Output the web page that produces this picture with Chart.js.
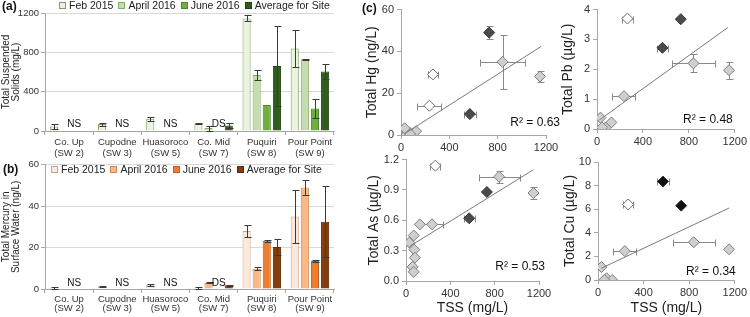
<!DOCTYPE html>
<html>
<head>
<meta charset="utf-8">
<script src="https://cdn.jsdelivr.net/npm/chart.js@4.4.1/dist/chart.umd.min.js"></script>
<style>
  body { margin: 0; background: #fff; }
  #wrap { position: relative; width: 750px; height: 317px; overflow: hidden; font-family: "Liberation Sans", Arial, sans-serif; }
  #wrap canvas { position: absolute; }
  .tag { position: absolute; font-weight: bold; font-size: 12px; color: #111; }
  .legend { position: absolute; display: flex; gap: 5px; font-size: 10.5px; color: #222; white-space: nowrap; line-height: 11px; }
  .legend span { display: inline-flex; align-items: center; gap: 3px; }
  .legend i { display: inline-block; width: 5px; height: 5px; border: 1px solid; }
</style>
</head>
<body>
<div id="wrap">
  <canvas id="c-tss" width="345" height="160" style="left:0;top:0"></canvas>
  <canvas id="c-hgbar" width="345" height="160" style="left:0;top:157px"></canvas>
  <canvas id="c-hg" width="200" height="158" style="left:364px;top:0"></canvas>
  <canvas id="c-pb" width="190" height="150" style="left:560px;top:0"></canvas>
  <canvas id="c-as" width="190" height="167" style="left:366px;top:150px"></canvas>
  <canvas id="c-cu" width="190" height="167" style="left:560px;top:150px"></canvas>
  <div class="legend" id="leg-a" style="left:59px;top:0"></div>
  <div class="legend" id="leg-b" style="left:51px;top:164px"></div>
  <div class="tag" style="left:2px;top:-1px">(a)</div>
  <div class="tag" style="left:3px;top:162px">(b)</div>
  <div class="tag" style="left:362px;top:1px">(c)</div>
</div>
<script>
// ---- bar chart data (a) TSS, (b) total Hg ----
const sites = [["Co. Up", "(SW 2)"], ["Cupodne", "(SW 3)"], ["Huasoroco", "(SW 5)"], ["Co. Mid", "(SW 7)"], ["Puquiri", "(SW 8)"], ["Pour Point", "(SW 9)"]];
const seriesNames = ["Feb 2015", "April 2016", "June 2016", "Average for Site"];

const tssFeb = [45, 70, 125, 75, 1145, 840];
const tssFebErr = [22, 15, 22, 8, 30, 185];
const tssApr = [null, null, null, 30, 570, 730];
const tssAprErr = [0, 0, 0, 25, 55, 5];
const tssJun = [null, null, null, null, 265, 230];
const tssJunErr = [0, 0, 0, 0, 0, 100];
const tssAvg = [null, null, null, 55, 660, 605];
const tssAvgErr = [0, 0, 0, 25, 410, 75];
const tssNotes = ["NS", "NS", "NS", "DS", "", ""];

const hgFeb = [0.5, 1.2, 1.8, 0.5, 28, 35];
const hgFebErr = [0.3, 0.3, 0.5, 0.3, 2.8, 13];
const hgApr = [null, null, null, 3.0, 9.8, 49];
const hgAprErr = [0, 0, 0, 0.3, 0.8, 3.6];
const hgJun = [null, null, null, null, 23.3, 13.5];
const hgJunErr = [0, 0, 0, 0, 0.5, 0.5];
const hgAvg = [null, null, null, 1.8, 20.3, 32.5];
const hgAvgErr = [0, 0, 0, 0.3, 3.8, 17];
const hgNotes = ["NS", "NS", "NS", "DS", "", ""];

// ---- scatter data (c): [TSS, metal] ----
const hgGray = [[45, 0.5], [70, 1.2], [125, 1.8], [75, 0.5], [30, 3.2], [840, 35], [1150, 28]];
const hgGrayXErr = [0, 0, 0, 0, 0, 185, 0];
const hgGrayYErr = [0, 0, 0, 0, 0, 13, 2.6];
const hgWhite = [[265, 29], [235, 14]];
const hgWhiteXErr = [45, 100];
const hgDark = [[570, 10], [730, 49]];
const hgDarkXErr = [50, 0];
const hgDarkYErr = [0, 3.2];
const hgTrend = [[30, 0.6], [1160, 42.4]];

const pbGray = [[30, 0.38], [125, 0.22], [75, 0.05], [45, 0.05], [235, 1.1], [840, 2.2], [1150, 1.97]];
const pbGrayXErr = [0, 0, 0, 0, 100, 185, 0];
const pbGrayYErr = [0, 0, 0, 0, 0, 0.3, 0.28];
const pbWhite = [[265, 3.7]];
const pbWhiteXErr = [45];
const pbDark = [[570, 2.72], [730, 3.68]];
const pbDarkXErr = [50, 0];
const pbTrend = [[20, 0.3], [1140, 3.4]];

const asGray = [[70, 0.45], [30, 0.38], [75, 0.31], [80, 0.23], [60, 0.14], [70, 0.09], [125, 0.56], [235, 0.56], [840, 1.03], [1150, 0.87]];
const asGrayXErr = [0, 0, 0, 0, 0, 0, 0, 100, 185, 0];
const asGrayYErr = [0, 0, 0, 0, 0, 0, 0, 0, 0.06, 0.06];
const asWhite = [[265, 1.14]];
const asWhiteXErr = [45];
const asDark = [[570, 0.62], [730, 0.88]];
const asDarkXErr = [50, 0];
const asTrend = [[30, 0.34], [1150, 1.10]];

const cuGray = [[30, 1.1], [75, 0.15], [125, 0], [55, 0], [235, 2.45], [840, 3.2], [1150, 2.6]];
const cuGrayXErr = [0, 0, 0, 0, 100, 185, 0];
const cuWhite = [[265, 6.4]];
const cuWhiteXErr = [45];
const cuDark = [[570, 8.35], [730, 6.3]];
const cuDarkXErr = [50, 0];
const cuTrend = [[30, 1.0], [1150, 6.1]];

const FONT = "'Liberation Sans', Arial, sans-serif";
const GREENS = [["#eaf2e0", "#7f9f63"], ["#c4dcae", "#86aa68"], ["#6fae3f", "#4f8a2a"], ["#2f5d1e", "#1f4412"]];
const ORANGES = [["#fce9dc", "#c8a488"], ["#f6b987", "#d08a55"], ["#ed7d31", "#c05f1c"], ["#843c0c", "#5c2a08"]];
const plain = (v) => String(v);

// error bars drawn from the chart's own scales
const errorBars = {
  id: "errorBars",
  beforeDatasetsDraw(chart, args, opts) { if (opts.under) drawErrors(chart, opts); },
  afterDatasetsDraw(chart, args, opts) { if (!opts.under) drawErrors(chart, opts); },
};

function drawErrors(chart, opts) {
  const { ctx, scales: { x, y } } = chart;
  const cap = opts.cap || 3;
  ctx.save();
  ctx.strokeStyle = opts.color || "#333";
  ctx.lineWidth = 1;
  chart.data.datasets.forEach((ds, i) => {
    const meta = chart.getDatasetMeta(i);
    ds.data.forEach((d, j) => {
      if (d == null) return;
      const el = meta.data[j];
      if (!el) return;
      const vy = typeof d === "object" ? d.y : d;
      const vx = typeof d === "object" ? d.x : null;
      const ey = ds.yErr ? ds.yErr[j] : 0;
      const ex = ds.xErr ? ds.xErr[j] : 0;
      const px = Math.round(el.x) + 0.5;
      const py = Math.round(el.y) + 0.5;
      ctx.beginPath();
      if (ey) {
        const t = Math.round(y.getPixelForValue(vy + ey)) + 0.5;
        const b = Math.round(y.getPixelForValue(Math.max(vy - ey, y.min))) + 0.5;
        ctx.moveTo(px, t); ctx.lineTo(px, b);
        ctx.moveTo(px - cap, t); ctx.lineTo(px + cap + 1, t);
        ctx.moveTo(px - cap, b); ctx.lineTo(px + cap + 1, b);
      }
      if (ex && vx != null) {
        const l = Math.round(x.getPixelForValue(Math.max(vx - ex, x.min))) + 0.5;
        const r = Math.round(x.getPixelForValue(vx + ex)) + 0.5;
        ctx.moveTo(l, py); ctx.lineTo(r, py);
        ctx.moveTo(l, py - cap); ctx.lineTo(l, py + cap + 1);
        ctx.moveTo(r, py - cap); ctx.lineTo(r, py + cap + 1);
      }
      ctx.stroke();
    });
  });
  ctx.restore();
}

// NS / DS labels on bars, R² on scatters
const notes = {
  id: "notes",
  afterDatasetsDraw(chart, args, opts) {
    const { ctx, chartArea } = chart;
    ctx.save();
    ctx.fillStyle = "#111";
    if (opts.barNotes) {
      const meta = chart.getDatasetMeta(2);
      ctx.font = "10px " + FONT;
      ctx.textAlign = "center";
      ctx.textBaseline = "bottom";
      const base = chart.scales.y.getPixelForValue(0);
      opts.barNotes.forEach((t, i) => {
        if (t) ctx.fillText(t, meta.data[i].x, base - opts.lift);
      });
    }
    if (opts.r2) {
      ctx.font = "12px " + FONT;
      ctx.textAlign = "right";
      ctx.textBaseline = "middle";
      ctx.fillText(opts.r2, chartArea.right + opts.dx, chartArea.bottom - opts.dy);
    }
    ctx.restore();
  },
};

function buildLegend(id, colors) {
  document.getElementById(id).innerHTML = seriesNames.map((n, i) =>
    `<span><i style="background:${colors[i][0]};border-color:${colors[i][1]}"></i>${n}</span>`).join("");
}

function barChart(canvasId, series, errs, colors, notesArr, o) {
  new Chart(document.getElementById(canvasId), {
    type: "bar",
    data: {
      labels: sites,
      datasets: series.map((s, i) => ({
        label: seriesNames[i],
        data: s,
        yErr: errs[i],
        backgroundColor: colors[i][0],
        borderColor: colors[i][1],
        borderWidth: 1,
        barPercentage: 0.8,
        categoryPercentage: 0.84,
      })),
    },
    options: {
      responsive: false,
      animation: false,
      layout: { autoPadding: false, padding: { top: o.top, right: 11, left: 0, bottom: 0 } },
      plugins: {
        legend: { display: false },
        tooltip: { enabled: false },
        errorBars: { color: "#3a3a3a", cap: 3 },
        notes: { barNotes: notesArr, lift: o.lift },
      },
      scales: {
        x: {
          afterFit: (s) => { s.height = o.xh; },
          grid: { drawOnChartArea: false, drawTicks: true, tickLength: 4, color: "#a6a6a6" },
          border: { color: "#a6a6a6" },
          ticks: { color: "#333", font: { family: FONT, size: 9.5, lineHeight: o.lh }, padding: 2, maxRotation: 0, autoSkip: false },
        },
        y: {
          min: 0, max: o.max,
          afterFit: (s) => { s.width = 45; },
          grid: { color: "#d9d9d9", tickColor: "#a6a6a6", tickLength: 4 },
          border: { color: "#a6a6a6" },
          ticks: { stepSize: o.step, color: "#333", font: { family: FONT, size: 9.5 }, padding: 2, callback: plain },
          title: { display: true, text: o.title, color: "#222", font: { family: FONT, size: 10, lineHeight: 1.0 }, padding: { top: 1, bottom: 0 } },
        },
      },
    },
    plugins: [errorBars, notes],
  });
}

const pts = (arr) => arr.map(([x, y]) => ({ x, y }));

function scatterChart(canvasId, d, o) {
  const marker = { pointStyle: "rectRot", pointRadius: 5.5, borderWidth: 1, showLine: false };
  new Chart(document.getElementById(canvasId), {
    type: "scatter",
    data: {
      datasets: [
        { label: "trend", data: pts(d.trend), showLine: true, borderColor: "#7a7a7a", borderWidth: 1, pointRadius: 0, order: 0 },
        { label: "June 2016", data: pts(d.white), xErr: d.whiteXErr, ...marker, backgroundColor: "#ffffff", borderColor: "#6b6b6b", order: 1 },
        { label: "April 2016", data: pts(d.dark), xErr: d.darkXErr, yErr: d.darkYErr, ...marker, backgroundColor: o.dark, borderColor: "#333", order: 2 },
        { label: "Feb 2015", data: pts(d.gray), xErr: d.grayXErr, yErr: d.grayYErr, ...marker, backgroundColor: "#cfcfcf", borderColor: "#7d7d7d", order: 3 },
      ],
    },
    options: {
      responsive: false,
      animation: false,
      layout: { autoPadding: false, padding: { top: o.top, right: o.right, left: 0, bottom: 0 } },
      plugins: {
        legend: { display: false },
        tooltip: { enabled: false },
        errorBars: { color: "#8a8a8a", cap: 3, under: true },
        notes: { r2: o.r2, dx: o.r2dx, dy: o.r2dy },
      },
      scales: {
        x: {
          type: "linear", min: 0, max: 1200,
          afterFit: (s) => { s.height = o.xh; },
          grid: { drawOnChartArea: false, tickLength: 4, color: "#a6a6a6" },
          border: { color: "#a6a6a6" },
          ticks: { stepSize: 400, color: "#333", font: { family: FONT, size: 11, lineHeight: 1.0 }, padding: 3, callback: plain },
          title: { display: !!o.xTitle, text: o.xTitle, color: "#222", font: { family: FONT, size: 14, lineHeight: 1.2 }, padding: 0 },
        },
        y: {
          min: 0, max: o.max,
          afterFit: (s) => { s.width = o.yw; },
          grid: { drawOnChartArea: false, tickLength: 4, color: "#a6a6a6" },
          border: { color: "#a6a6a6" },
          ticks: { stepSize: o.step, color: "#333", font: { family: FONT, size: 11 }, padding: 3, callback: o.fmt || plain },
          title: { display: true, text: o.yTitle, color: "#222", font: { family: FONT, size: 14, lineHeight: 1.2 }, padding: { top: o.tp || 0, bottom: 0 } },
        },
      },
    },
    plugins: [errorBars, notes],
  });
}

buildLegend("leg-a", GREENS);
buildLegend("leg-b", ORANGES);

barChart("c-tss", [tssFeb, tssApr, tssJun, tssAvg], [tssFebErr, tssAprErr, tssJunErr, tssAvgErr], GREENS, tssNotes,
  { top: 13, xh: 29, lh: 1.15, max: 1200, step: 400, lift: 2, title: ["Total Suspended", "Solids (mg/L)"] });
barChart("c-hgbar", [hgFeb, hgApr, hgJun, hgAvg], [hgFebErr, hgAprErr, hgJunErr, hgAvgErr], ORANGES, hgNotes,
  { top: 7, xh: 28, lh: 0.95, max: 60, step: 20, lift: 1, title: ["Total Mercury in", "Surface Water (ng/L)"] });

scatterChart("c-hg", { gray: hgGray, grayXErr: hgGrayXErr, grayYErr: hgGrayYErr, white: hgWhite, whiteXErr: hgWhiteXErr, dark: hgDark, darkXErr: hgDarkXErr, darkYErr: hgDarkYErr, trend: hgTrend },
  { top: 9, right: 18, yw: 37, xh: 23, max: 60, step: 20, yTitle: "Total Hg (ng/L)", dark: "#4a4a4a", r2: "R² = 0.63", r2dx: 14, r2dy: 12 });
scatterChart("c-pb", { gray: pbGray, grayXErr: pbGrayXErr, grayYErr: pbGrayYErr, white: pbWhite, whiteXErr: pbWhiteXErr, dark: pbDark, darkXErr: pbDarkXErr, trend: pbTrend },
  { top: 6, right: 8, yw: 37, xh: 21, max: 4, step: 1, yTitle: "Total Pb (µg/L)", dark: "#4a4a4a", r2: "R² = 0.48", r2dx: -2, r2dy: 9 });
scatterChart("c-as", { gray: asGray, grayXErr: asGrayXErr, grayYErr: asGrayYErr, white: asWhite, whiteXErr: asWhiteXErr, dark: asDark, darkXErr: asDarkXErr, trend: asTrend },
  { top: 9, right: 17, yw: 40, xh: 36, max: 1.2, step: 0.3, fmt: (v) => v.toFixed(1), yTitle: "Total As (µg/L)", xTitle: "TSS (mg/L)", dark: "#4a4a4a", r2: "R² = 0.53", r2dx: 6, r2dy: 14 });
scatterChart("c-cu", { gray: cuGray, grayXErr: cuGrayXErr, white: cuWhite, whiteXErr: cuWhiteXErr, dark: cuDark, darkXErr: cuDarkXErr, trend: cuTrend },
  { top: 12, right: 11, yw: 38, xh: 37, max: 10, step: 2, yTitle: "Total Cu (µg/L)", xTitle: "TSS (mg/L)", dark: "#111111", tp: 2, r2: "R² = 0.34", r2dx: 1, r2dy: 8 });
</script>
</body>
</html>
